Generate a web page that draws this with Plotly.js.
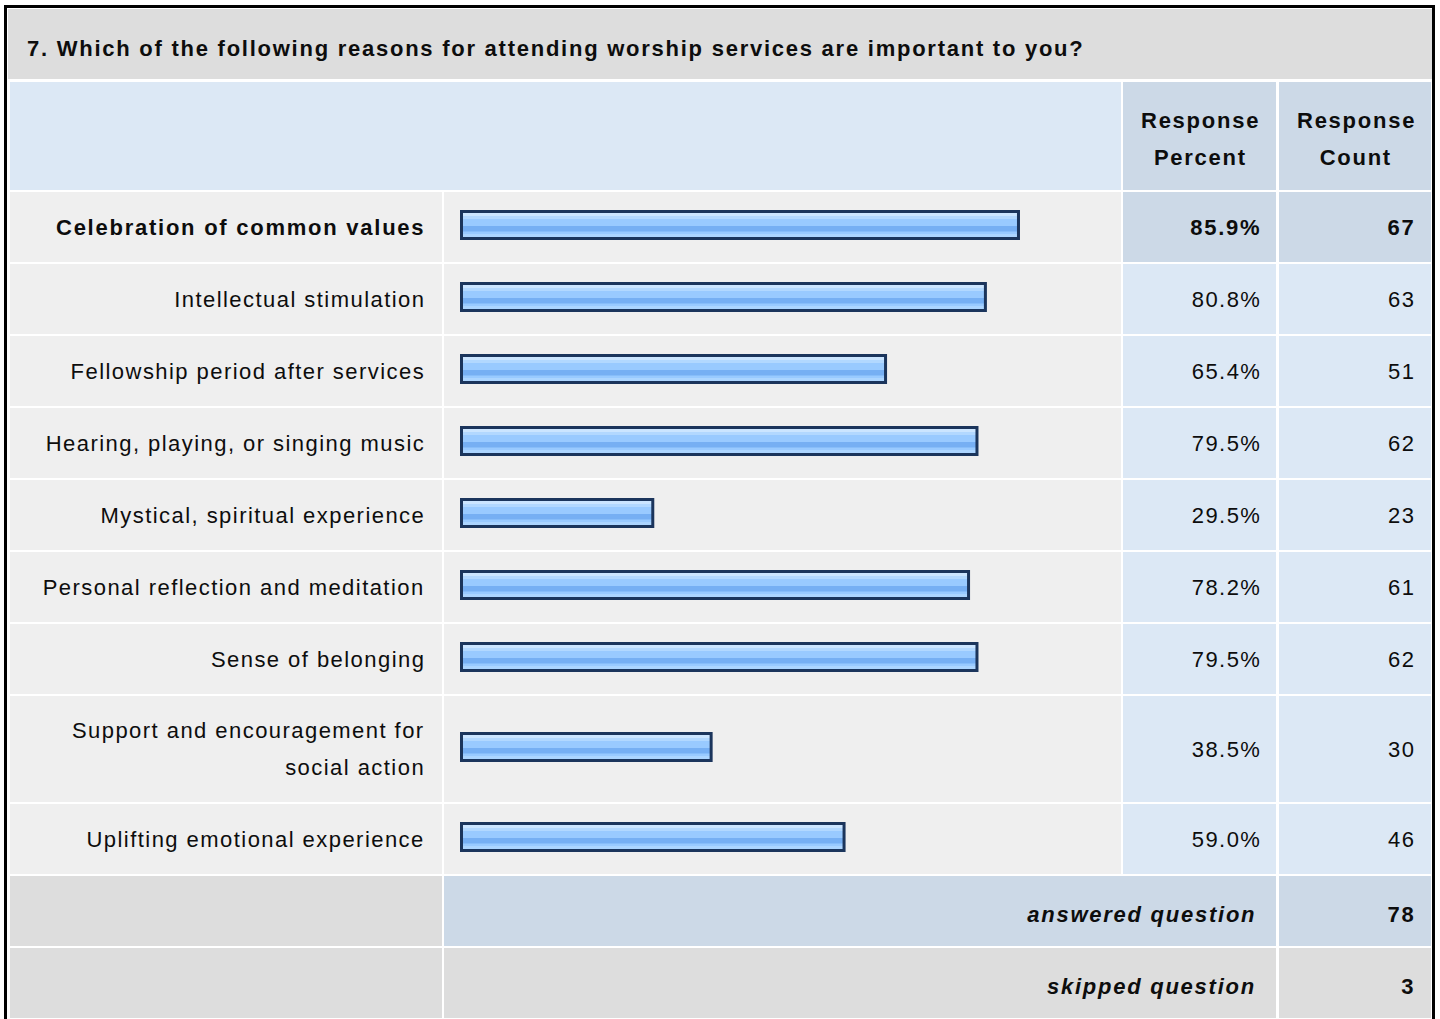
<!DOCTYPE html>
<html>
<head>
<meta charset="utf-8">
<script src="https://cdn.plot.ly/plotly-3.0.1.min.js"></script>
<style>
  html, body { margin: 0; padding: 0; background: #ffffff; }
  #chart { width: 1440px; height: 1019px; }
  #chart text.annotation-text { letter-spacing: 1.45px; }
  #chart text.annotation-text tspan[style*="bold"] { letter-spacing: 1.75px; }
</style>
</head>
<body>
<div id="chart"></div>
<script>
// ---------------- DATA ----------------
const questionTitle = '7. Which of the following reasons for attending worship services are important to you?';
const categories = [
  'Celebration of common values',
  'Intellectual stimulation',
  'Fellowship period after services',
  'Hearing, playing, or singing music',
  'Mystical, spiritual experience',
  'Personal reflection and meditation',
  'Sense of belonging',
  'Support and encouragement for<br>social action',
  'Uplifting emotional experience'
];
const responsePercent = [85.9, 80.8, 65.4, 79.5, 29.5, 78.2, 79.5, 38.5, 59.0];
const responseCount = [67, 63, 51, 62, 23, 61, 62, 30, 46];
const headerLabels = ['Response<br>Percent', 'Response<br>Count'];
const summaryLabels = ['answered question', 'skipped question'];
const summaryValues = [78, 3];

// ---------------- LAYOUT GEOMETRY (pixels) ----------------
const W = 1440, H = 1019;
const rowTops = [192, 264, 336, 408, 480, 552, 624, 696, 804];
const rowHeights = [70, 70, 70, 70, 70, 70, 70, 106, 70];
const summaryTops = [876, 948];
const summaryH = 70;
const colLabel = [10, 442], colBar = [444, 1121], colPct = [1123, 1276], colCnt = [1279, 1431];
const PX0 = 461.5, PXU = 6.484; // x axis: value 0 at PX0, PXU px per percent
const FONT = 'Liberation Sans, Arial, Helvetica, sans-serif';
const TXT = '#0d0d0d';
const LINE_GAP = 37;
const FS = 22;

const C_TITLE = '#dddddd', C_HEAD = '#dce8f5', C_HEAD2 = '#ccd9e7', C_ROW = '#efefef',
      C_CELL = '#dce8f5', C_CELL_HI = '#ccd9e7', C_SUM_GRAY = '#dddddd';

const px = x => x / W;
const shapes = [];
function rect(x0, y0, x1, y1, fill) {
  shapes.push({type: 'rect', xref: 'paper', yref: 'y', x0: px(x0), x1: px(x1), y0: y0, y1: y1,
    fillcolor: fill, line: {width: 0}, layer: 'below'});
}
// outer frame
shapes.push({type: 'rect', xref: 'paper', yref: 'y', x0: px(5.5), x1: px(1433.5), y0: 6.5, y1: 1040,
  fillcolor: 'rgba(0,0,0,0)', line: {color: '#000000', width: 3}, layer: 'below'});
// title bar
rect(8, 9, 1432, 79, C_TITLE);
// header
rect(colLabel[0], 82, colBar[1], 190, C_HEAD);
rect(colPct[0], 82, colPct[1], 190, C_HEAD2);
rect(colCnt[0], 82, colCnt[1], 190, C_HEAD2);
// data rows
rowTops.forEach((t, i) => {
  const b = t + rowHeights[i];
  rect(colLabel[0], t, colLabel[1], b, C_ROW);
  rect(colBar[0], t, colBar[1], b, C_ROW);
  const c = i === 0 ? C_CELL_HI : C_CELL;
  rect(colPct[0], t, colPct[1], b, c);
  rect(colCnt[0], t, colCnt[1], b, c);
});
// summary rows
rect(colLabel[0], summaryTops[0], colLabel[1], summaryTops[0] + summaryH, C_SUM_GRAY);
rect(colBar[0], summaryTops[0], colPct[1], summaryTops[0] + summaryH, C_HEAD2);
rect(colCnt[0], summaryTops[0], colCnt[1], summaryTops[0] + summaryH, C_HEAD2);
rect(colLabel[0], summaryTops[1], colLabel[1], summaryTops[1] + summaryH, C_SUM_GRAY);
rect(colBar[0], summaryTops[1], colPct[1], summaryTops[1] + summaryH, C_SUM_GRAY);
rect(colCnt[0], summaryTops[1], colCnt[1], summaryTops[1] + summaryH, C_SUM_GRAY);

// ---------------- ANNOTATIONS ----------------
const annotations = [];
function txt(x, y, text, anchor) {
  annotations.push({xref: 'paper', yref: 'y', x: px(x), y: y, text: text, showarrow: false,
    xanchor: anchor, yanchor: 'middle', align: anchor === 'center' ? 'center' : anchor,
    borderpad: 0,
    font: {family: FONT, size: FS, color: TXT}});
}
txt(26, 48, '<b>' + questionTitle + '</b>', 'left');
headerLabels.forEach((h, k) => {
  const cx = k === 0 ? (colPct[0] + colPct[1]) / 2 : (colCnt[0] + colCnt[1]) / 2;
  h.split('<br>').forEach((ln, j) => txt(cx + 1, 120 + j * LINE_GAP, '<b>' + ln + '</b>', 'center'));
});
const rowCenters = rowTops.map((t, i) => t + rowHeights[i] / 2);
const RX_LABEL = 426, RX_PCT = 1262, RX_CNT = 1416, RX_SUM = 1257;
categories.forEach((cat, i) => {
  const lines = cat.split('<br>');
  const bold = i === 0;
  lines.forEach((ln, j) => {
    const y = rowCenters[i] - (lines.length - 1) * LINE_GAP / 2 + j * LINE_GAP;
    txt(RX_LABEL, y, bold ? '<b>' + ln + '</b>' : ln, 'right');
  });
  const p = responsePercent[i].toFixed(1) + '%';
  txt(RX_PCT, rowCenters[i], bold ? '<b>' + p + '</b>' : p, 'right');
  txt(RX_CNT, rowCenters[i], bold ? '<b>' + responseCount[i] + '</b>' : String(responseCount[i]), 'right');
});
summaryLabels.forEach((s, k) => {
  const cy = summaryTops[k] + summaryH / 2 + 3;
  txt(RX_SUM, cy, '<b><i>' + s + '</i></b>', 'right');
  txt(RX_CNT, cy, '<b>' + summaryValues[k] + '</b>', 'right');
});

// ---------------- BARS ----------------
const barY = rowCenters.map(c => c - 2);
const BAR_W = 27;
const barTop = -BAR_W / 2; // offset of outline edge from center
const stripes = [
  {from: 0, to: BAR_W, color: '#99caff'},
  {from: 1.5, to: 4.5, color: '#cbe5ff'},
  {from: 4.5, to: 7.5, color: '#b2d8ff'},
  {from: 14.5, to: 20, color: '#76aff3'},
  {from: 22.5, to: 25.5, color: '#acd5ff'}
];
const traces = stripes.map(s => ({
  type: 'bar', orientation: 'h', x: responsePercent, y: barY,
  offset: barTop + s.from, width: s.to - s.from,
  marker: {color: s.color, line: {width: 0}},
  hoverinfo: 'skip', showlegend: false
}));
traces.push({
  type: 'bar', orientation: 'h', x: responsePercent, y: barY,
  offset: barTop, width: BAR_W,
  marker: {color: 'rgba(0,0,0,0)', line: {color: '#1b355c', width: 3}},
  hoverinfo: 'skip', showlegend: false
});

const layout = {
  width: W, height: H,
  margin: {l: 0, r: 0, t: 0, b: 0, pad: 0},
  paper_bgcolor: '#ffffff', plot_bgcolor: 'rgba(0,0,0,0)',
  barmode: 'overlay', showlegend: false,
  xaxis: {range: [(0 - PX0) / PXU, (W - PX0) / PXU], visible: false, fixedrange: true},
  yaxis: {range: [H, 0], visible: false, fixedrange: true},
  shapes: shapes, annotations: annotations
};
Plotly.newPlot('chart', traces, layout, {displayModeBar: false, staticPlot: true});
</script>
</body>
</html>
